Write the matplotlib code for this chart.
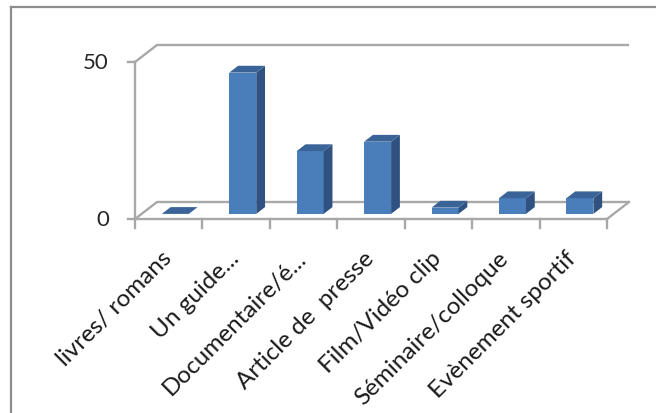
import matplotlib.pyplot as plt
from matplotlib.patches import Polygon
from matplotlib.lines import Line2D

# survey answers (percent)
categories = ["livres/ romans", "Un guide...", "Documentaire/é...", "Article de  presse",
              "Film/Vidéo clip", "Séminaire/colloque", "Evènement sportif"]
values = [0, 45, 20, 23, 2, 5, 5]
yticks = [0, 50]

W, H = 656, 414
px_cat = 67.43      # pixels per category
px_unit = 3.14      # pixels per value unit
x0_px, y0_px = 135, 220   # front corner of the floor

fig = plt.figure(figsize=(W / 100, H / 100), dpi=100)
ax = fig.add_axes([0, 0, 1, 1])
ax.set_xlim(-0.5 - x0_px / px_cat, -0.5 + (W - x0_px) / px_cat)
ax.set_ylim((y0_px - H) / px_unit, y0_px / px_unit)
ax.axis("off")

# oblique depth of the plot box, in data units
DX = 22 / px_cat
DY = 17 / px_unit
left, right = -0.5, len(categories) - 0.5
grey = "#a8a8a8"
lw = 1.7

# back wall gridlines + left side diagonals
for t in yticks:
    ax.plot([left, left + DX, right + DX], [t, t + DY, t + DY], color=grey, lw=lw,
            solid_capstyle="butt")
# floor outline
ax.plot([right, right + DX], [0, DY], color=grey, lw=lw)
ax.plot([left, right], [0, 0], color=grey, lw=lw)
# value axis
ax.plot([left, left], [0, max(yticks)], color=grey, lw=lw)
for t in yticks:
    ax.plot([left - 7 / px_cat, left], [t, t], color=grey, lw=lw)
    ax.text(left - 26 / px_cat, t, str(t), ha="right", va="center",
            fontsize=16, family="Lato", color="#262626")
# category ticks
for k in range(len(categories) + 1):
    b = left + k
    ax.plot([b, b], [0, -9 / px_unit], color=grey, lw=lw)

# 3d columns
bw = 0.4
d0, d1 = 0.3, 0.7
fx, fy = d0 * DX, d0 * DY
bx, by = (d1 - d0) * DX, (d1 - d0) * DY
front = "#4a7ebb"
side = "#2f5282"
top = "#3a6498"
xs = [i + fx for i in range(len(values))]
ax.bar(xs, values, width=bw, bottom=fy, color=front, zorder=3)
for x, v in zip(xs, values):
    xl, xr = x - bw / 2, x + bw / 2
    yb, yt = fy, fy + v
    if v > 0:
        ax.add_patch(Polygon([(xr, yb), (xr + bx, yb + by), (xr + bx, yt + by), (xr, yt)],
                             closed=True, facecolor=side, edgecolor="none", zorder=3))
    ax.add_patch(Polygon([(xl, yt), (xr, yt), (xr + bx, yt + by), (xl + bx, yt + by)],
                         closed=True, facecolor=top, edgecolor="none", zorder=3))

# rotated category labels, baseline end just under each category
for i, lab in enumerate(categories):
    ax.text(i + 4 / px_cat, -40 / px_unit, lab, rotation=45, rotation_mode="anchor",
            ha="right", va="baseline", fontsize=17.5, family="Lato", color="#1a1a1a")

# chart frame
fig.add_artist(Line2D([11 / W, 11 / W], [0, 1 - 8 / H], color="#8c8c8c", lw=1.6))
fig.add_artist(Line2D([11 / W, 1], [1 - 8 / H, 1 - 8 / H], color="#8c8c8c", lw=1.6))

fig.savefig("out.png", dpi=100)
